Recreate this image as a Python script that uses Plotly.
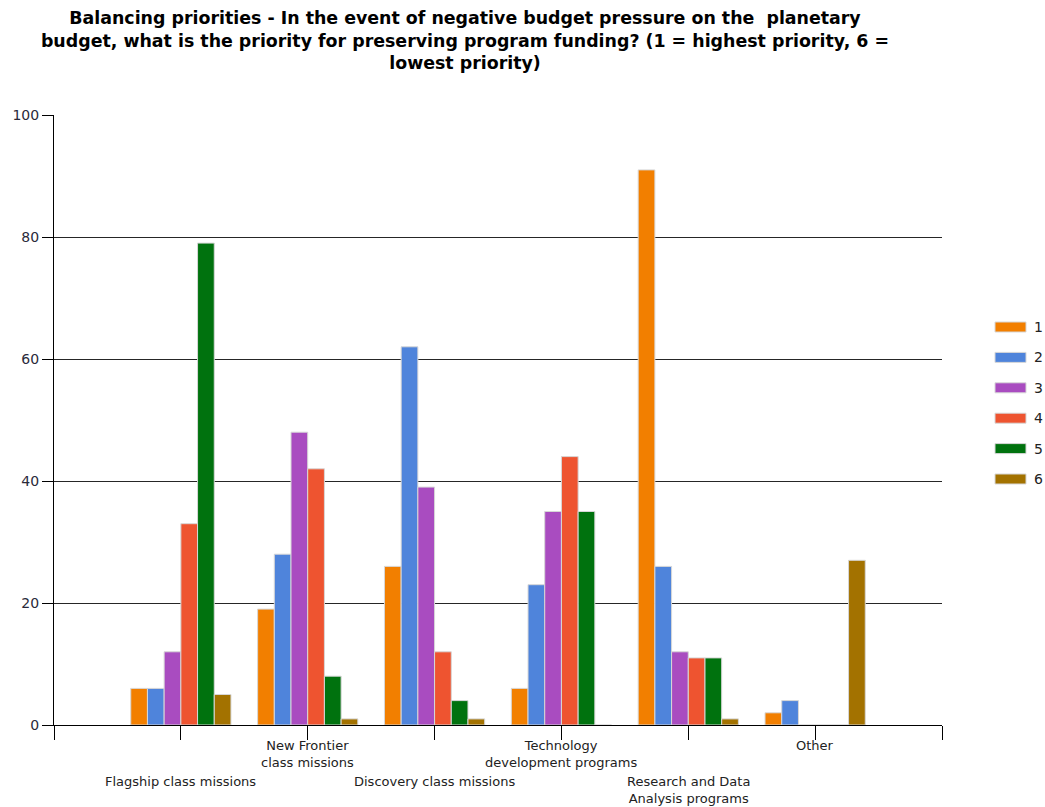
import plotly.graph_objects as go

# Program areas (x categories) and the row each label sits in (0 = upper, 1 = lower)
categories = [
    "Flagship class missions",
    "New Frontier<br>class missions",
    "Discovery class missions",
    "Technology<br>development programs",
    "Research and Data<br>Analysis programs",
    "Other",
]
label_rows = [1, 0, 1, 0, 1, 0]

# Number of responses per priority rank (1 = highest ... 6 = lowest)
rank_names = ["1", "2", "3", "4", "5", "6"]
rank_1 = [6, 19, 26, 6, 91, 2]
rank_2 = [6, 28, 62, 23, 26, 4]
rank_3 = [12, 48, 39, 35, 12, 0]
rank_4 = [33, 42, 12, 44, 11, 0]
rank_5 = [79, 8, 4, 35, 11, 0]
rank_6 = [5, 1, 1, 0, 1, 27]

y_ticks = [0, 20, 40, 60, 80, 100]

colors = ["#F27F00", "#4F84DB", "#A94CC0", "#EE5430", "#00720E", "#A37200"]
border = "rgba(215,215,215,1)"
FONT = "DejaVu Sans, Verdana, sans-serif"

# Plot-area geometry in pixels
W, H = 1045, 807
L, R, T, B = 54, 103, 115, 82
plot_w, plot_h = W - L - R, H - T - B

fig = go.Figure()
x_pos = list(range(len(categories)))
series = [rank_1, rank_2, rank_3, rank_4, rank_5, rank_6]
for i, (name, vals) in enumerate(zip(rank_names, series)):
    fig.add_trace(go.Bar(
        x=x_pos, y=vals, name=name, showlegend=False,
        marker=dict(color=colors[i], line=dict(color=border, width=1)),
    ))

# Category labels, staggered on two rows under the axis
for i, (cat, row) in enumerate(zip(categories, label_rows)):
    fig.add_annotation(
        x=i, xref="x", y=0, yref="paper", yanchor="top", xanchor="center",
        text=cat, showarrow=False, yshift=-11 if row == 0 else -47,
        font=dict(family=FONT, size=13, color="#222222"),
    )

# Legend: wide colour swatches with the rank number beside them
legend_top_px, legend_step_px = 327, 30.4
for i, name in enumerate(rank_names):
    cy = legend_top_px + i * legend_step_px
    yp = (H - B - cy) / plot_h
    fig.add_shape(
        type="rect", xref="paper", yref="paper",
        x0=(995 - L) / plot_w, x1=(1026 - L) / plot_w,
        y0=yp - 5 / plot_h, y1=yp + 5 / plot_h,
        fillcolor=colors[i], line=dict(color=border, width=1),
    )
    fig.add_annotation(
        x=(1032 - L) / plot_w, xref="paper", y=yp, yref="paper",
        xanchor="left", yanchor="middle", text=name, showarrow=False,
        font=dict(family=FONT, size=14, color="#222222"),
    )

fig.update_layout(
    width=W, height=H,
    margin=dict(l=L, r=R, t=T, b=B),
    paper_bgcolor="white", plot_bgcolor="white",
    barmode="group", bargap=0.21, bargroupgap=0,
    showlegend=False,
    title=dict(
        text="Balancing priorities - In the event of negative budget pressure on the  planetary<br>"
             "budget, what is the priority for preserving program funding? (1 = highest priority, 6 =<br>"
             "lowest priority)",
        x=465 / W, xanchor="center", xref="container",
        y=1 - 24 / H, yanchor="top", yref="container",
        font=dict(family=FONT, size=17.4, color="black", weight="bold"),
    ),
)

fig.update_xaxes(
    range=[-1, len(categories)], tickvals=list(range(-1, len(categories) + 1)),
    ticktext=[""] * (len(categories) + 2),
    showgrid=False, zeroline=False,
    showline=True, linecolor="black", linewidth=1,
    ticks="outside", ticklen=14, tickcolor="black", tickwidth=1,
)
fig.update_yaxes(
    range=[0, 100], tickvals=y_ticks,
    showgrid=True, gridcolor="#262626", gridwidth=1, zeroline=False,
    showline=True, linecolor="black", linewidth=1,
    ticks="outside", ticklen=11, tickcolor="black",
    tickfont=dict(family=FONT, size=14, color="#2a2a3a"),
)

fig.write_html("out.html")
